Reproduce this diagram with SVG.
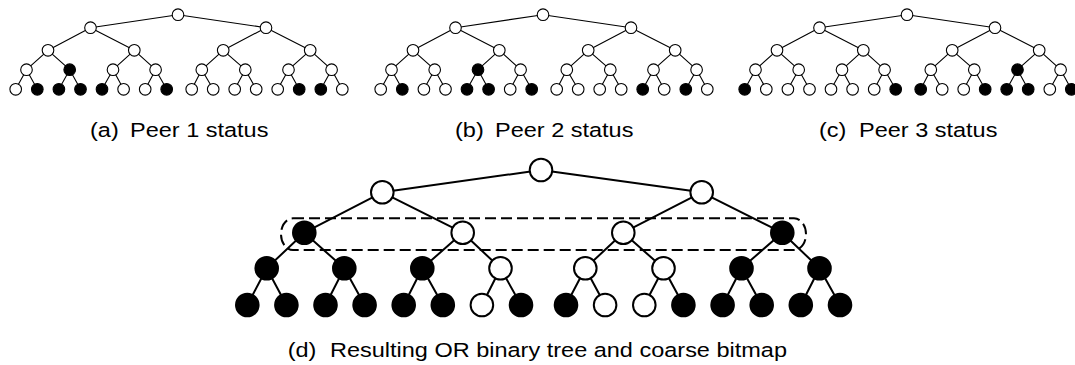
<svg xmlns="http://www.w3.org/2000/svg" xmlns:xlink="http://www.w3.org/1999/xlink" width="1075" height="365" viewBox="0 0 1075 365">
  <style>
    .sm circle { r: 5.8px; stroke: #000; stroke-width: 1.1; }
    .bg circle { r: 11.3px; stroke: #000; stroke-width: 2; }
    .w circle { fill: #fff; }
    .b circle { fill: #000; }
    .e-sm { fill: none; stroke: #000; stroke-width: 1.1; }
    .e-bg { fill: none; stroke: #000; stroke-width: 2; }
    .frame { fill: none; stroke: #000; stroke-width: 2; stroke-dasharray: 11 5; }
    text { font-family: "Liberation Sans", Arial, sans-serif; font-size: 23.5px; fill: #000; }
  </style>
  <defs>
    <!-- edges of one small 16-leaf tree, drawn at the origin of tree (a) -->
    <path id="small-edges" d="M178 14.7 L90.5 27.7 M178 14.7 L266 27.7
      M90.5 27.7 L48 50.3 M90.5 27.7 L134.3 50.3 M266 27.7 L223.2 50.3 M266 27.7 L310.2 50.3
      M48 50.3 L26.5 69.7 M48 50.3 L69.7 69.7 M134.3 50.3 L113 69.7 M134.3 50.3 L155.6 69.7
      M223.2 50.3 L201.8 69.7 M223.2 50.3 L245.3 69.7 M310.2 50.3 L288.5 69.7 M310.2 50.3 L331.6 69.7
      M26.5 69.7 L15.7 89.3 M26.5 69.7 L37.3 89.3 M69.7 69.7 L58.9 89.3 M69.7 69.7 L80.5 89.3
      M113 69.7 L102 89.3 M113 69.7 L123.6 89.3 M155.6 69.7 L145.2 89.3 M155.6 69.7 L166.7 89.3
      M201.8 69.7 L191.7 89.3 M201.8 69.7 L213.2 89.3 M245.3 69.7 L234.7 89.3 M245.3 69.7 L256.2 89.3
      M288.5 69.7 L277.7 89.3 M288.5 69.7 L299.2 89.3 M331.6 69.7 L320.8 89.3 M331.6 69.7 L342.3 89.3"/>
  </defs>

  <!-- connectors -->
  <g id="connectors">
    <use xlink:href="#small-edges" href="#small-edges" class="e-sm"/>
    <use xlink:href="#small-edges" href="#small-edges" class="e-sm" transform="translate(365,0)"/>
    <use xlink:href="#small-edges" href="#small-edges" class="e-sm" transform="translate(729,0)"/>
    <path class="e-bg" d="M541 170 L382.3 192.3 M541 170 L701.7 192.3
      M382.3 192.3 L304.3 232.7 M382.3 192.3 L462.7 232.7 M701.7 192.3 L623.3 232.7 M701.7 192.3 L782.3 232.7
      M304.3 232.7 L266.7 268.3 M304.3 232.7 L344.3 268.3 M462.7 232.7 L422.3 268.3 M462.7 232.7 L500.5 268.3
      M623.3 232.7 L585.3 268.3 M623.3 232.7 L663.5 268.3 M782.3 232.7 L741.5 268.3 M782.3 232.7 L819.5 268.3
      M266.7 268.3 L247.3 305 M266.7 268.3 L286.4 305 M344.3 268.3 L325.5 305 M344.3 268.3 L364.6 305
      M422.3 268.3 L403.7 305 M422.3 268.3 L442.8 305 M500.5 268.3 L481.9 305 M500.5 268.3 L521 305
      M585.3 268.3 L566 305 M585.3 268.3 L605.1 305 M663.5 268.3 L644.3 305 M663.5 268.3 L683.4 305
      M741.5 268.3 L722.6 305 M741.5 268.3 L761.7 305 M819.5 268.3 L800.8 305 M819.5 268.3 L840 305"/>
  </g>

  <!-- coarse bitmap level marker -->
  <rect id="coarse-level" class="frame" x="281" y="218.3" width="525" height="31.7" rx="12" ry="15.8"/>

  <!-- (a) peer 1 -->
  <g id="peer1" class="sm">
    <g id="p1-root" class="w"><circle cx="178" cy="14.7"/></g>
    <g id="p1-1-0" class="w"><circle cx="90.5" cy="27.7"/></g>
    <g id="p1-1-1" class="w"><circle cx="266" cy="27.7"/></g>
    <g id="p1-2-0" class="w"><circle cx="48" cy="50.3"/></g>
    <g id="p1-2-1" class="w"><circle cx="134.3" cy="50.3"/></g>
    <g id="p1-2-2" class="w"><circle cx="223.2" cy="50.3"/></g>
    <g id="p1-2-3" class="w"><circle cx="310.2" cy="50.3"/></g>
    <g id="p1-3-0" class="w"><circle cx="26.5" cy="69.7"/></g>
    <g id="p1-3-1" class="b"><circle cx="69.7" cy="69.7"/></g>
    <g id="p1-3-2" class="w"><circle cx="113" cy="69.7"/></g>
    <g id="p1-3-3" class="w"><circle cx="155.6" cy="69.7"/></g>
    <g id="p1-3-4" class="w"><circle cx="201.8" cy="69.7"/></g>
    <g id="p1-3-5" class="w"><circle cx="245.3" cy="69.7"/></g>
    <g id="p1-3-6" class="w"><circle cx="288.5" cy="69.7"/></g>
    <g id="p1-3-7" class="w"><circle cx="331.6" cy="69.7"/></g>
    <g id="p1-4-0" class="w"><circle cx="15.7" cy="89.3"/></g>
    <g id="p1-4-1" class="b"><circle cx="37.3" cy="89.3"/></g>
    <g id="p1-4-2" class="b"><circle cx="58.9" cy="89.3"/></g>
    <g id="p1-4-3" class="b"><circle cx="80.5" cy="89.3"/></g>
    <g id="p1-4-4" class="b"><circle cx="102" cy="89.3"/></g>
    <g id="p1-4-5" class="w"><circle cx="123.6" cy="89.3"/></g>
    <g id="p1-4-6" class="w"><circle cx="145.2" cy="89.3"/></g>
    <g id="p1-4-7" class="b"><circle cx="166.7" cy="89.3"/></g>
    <g id="p1-4-8" class="w"><circle cx="191.7" cy="89.3"/></g>
    <g id="p1-4-9" class="w"><circle cx="213.2" cy="89.3"/></g>
    <g id="p1-4-10" class="w"><circle cx="234.7" cy="89.3"/></g>
    <g id="p1-4-11" class="w"><circle cx="256.2" cy="89.3"/></g>
    <g id="p1-4-12" class="w"><circle cx="277.7" cy="89.3"/></g>
    <g id="p1-4-13" class="b"><circle cx="299.2" cy="89.3"/></g>
    <g id="p1-4-14" class="b"><circle cx="320.8" cy="89.3"/></g>
    <g id="p1-4-15" class="w"><circle cx="342.3" cy="89.3"/></g>
  </g>

  <!-- (b) peer 2 -->
  <g id="peer2" class="sm" transform="translate(365,0)">
    <g id="p2-root" class="w"><circle cx="178" cy="14.7"/></g>
    <g id="p2-1-0" class="w"><circle cx="90.5" cy="27.7"/></g>
    <g id="p2-1-1" class="w"><circle cx="266" cy="27.7"/></g>
    <g id="p2-2-0" class="w"><circle cx="48" cy="50.3"/></g>
    <g id="p2-2-1" class="w"><circle cx="134.3" cy="50.3"/></g>
    <g id="p2-2-2" class="w"><circle cx="223.2" cy="50.3"/></g>
    <g id="p2-2-3" class="w"><circle cx="310.2" cy="50.3"/></g>
    <g id="p2-3-0" class="w"><circle cx="26.5" cy="69.7"/></g>
    <g id="p2-3-1" class="w"><circle cx="69.7" cy="69.7"/></g>
    <g id="p2-3-2" class="b"><circle cx="113" cy="69.7"/></g>
    <g id="p2-3-3" class="w"><circle cx="155.6" cy="69.7"/></g>
    <g id="p2-3-4" class="w"><circle cx="201.8" cy="69.7"/></g>
    <g id="p2-3-5" class="w"><circle cx="245.3" cy="69.7"/></g>
    <g id="p2-3-6" class="w"><circle cx="288.5" cy="69.7"/></g>
    <g id="p2-3-7" class="w"><circle cx="331.6" cy="69.7"/></g>
    <g id="p2-4-0" class="w"><circle cx="15.7" cy="89.3"/></g>
    <g id="p2-4-1" class="b"><circle cx="37.3" cy="89.3"/></g>
    <g id="p2-4-2" class="w"><circle cx="58.9" cy="89.3"/></g>
    <g id="p2-4-3" class="w"><circle cx="80.5" cy="89.3"/></g>
    <g id="p2-4-4" class="b"><circle cx="102" cy="89.3"/></g>
    <g id="p2-4-5" class="b"><circle cx="123.6" cy="89.3"/></g>
    <g id="p2-4-6" class="w"><circle cx="145.2" cy="89.3"/></g>
    <g id="p2-4-7" class="b"><circle cx="166.7" cy="89.3"/></g>
    <g id="p2-4-8" class="w"><circle cx="191.7" cy="89.3"/></g>
    <g id="p2-4-9" class="w"><circle cx="213.2" cy="89.3"/></g>
    <g id="p2-4-10" class="w"><circle cx="234.7" cy="89.3"/></g>
    <g id="p2-4-11" class="w"><circle cx="256.2" cy="89.3"/></g>
    <g id="p2-4-12" class="b"><circle cx="277.7" cy="89.3"/></g>
    <g id="p2-4-13" class="w"><circle cx="299.2" cy="89.3"/></g>
    <g id="p2-4-14" class="b"><circle cx="320.8" cy="89.3"/></g>
    <g id="p2-4-15" class="w"><circle cx="342.3" cy="89.3"/></g>
  </g>

  <!-- (c) peer 3 -->
  <g id="peer3" class="sm" transform="translate(729,0)">
    <g id="p3-root" class="w"><circle cx="178" cy="14.7"/></g>
    <g id="p3-1-0" class="w"><circle cx="90.5" cy="27.7"/></g>
    <g id="p3-1-1" class="w"><circle cx="266" cy="27.7"/></g>
    <g id="p3-2-0" class="w"><circle cx="48" cy="50.3"/></g>
    <g id="p3-2-1" class="w"><circle cx="134.3" cy="50.3"/></g>
    <g id="p3-2-2" class="w"><circle cx="223.2" cy="50.3"/></g>
    <g id="p3-2-3" class="w"><circle cx="310.2" cy="50.3"/></g>
    <g id="p3-3-0" class="w"><circle cx="26.5" cy="69.7"/></g>
    <g id="p3-3-1" class="w"><circle cx="69.7" cy="69.7"/></g>
    <g id="p3-3-2" class="w"><circle cx="113" cy="69.7"/></g>
    <g id="p3-3-3" class="w"><circle cx="155.6" cy="69.7"/></g>
    <g id="p3-3-4" class="w"><circle cx="201.8" cy="69.7"/></g>
    <g id="p3-3-5" class="w"><circle cx="245.3" cy="69.7"/></g>
    <g id="p3-3-6" class="b"><circle cx="288.5" cy="69.7"/></g>
    <g id="p3-3-7" class="w"><circle cx="331.6" cy="69.7"/></g>
    <g id="p3-4-0" class="b"><circle cx="15.7" cy="89.3"/></g>
    <g id="p3-4-1" class="w"><circle cx="37.3" cy="89.3"/></g>
    <g id="p3-4-2" class="w"><circle cx="58.9" cy="89.3"/></g>
    <g id="p3-4-3" class="w"><circle cx="80.5" cy="89.3"/></g>
    <g id="p3-4-4" class="w"><circle cx="102" cy="89.3"/></g>
    <g id="p3-4-5" class="w"><circle cx="123.6" cy="89.3"/></g>
    <g id="p3-4-6" class="w"><circle cx="145.2" cy="89.3"/></g>
    <g id="p3-4-7" class="b"><circle cx="166.7" cy="89.3"/></g>
    <g id="p3-4-8" class="b"><circle cx="191.7" cy="89.3"/></g>
    <g id="p3-4-9" class="w"><circle cx="213.2" cy="89.3"/></g>
    <g id="p3-4-10" class="w"><circle cx="234.7" cy="89.3"/></g>
    <g id="p3-4-11" class="b"><circle cx="256.2" cy="89.3"/></g>
    <g id="p3-4-12" class="b"><circle cx="277.7" cy="89.3"/></g>
    <g id="p3-4-13" class="b"><circle cx="299.2" cy="89.3"/></g>
    <g id="p3-4-14" class="w"><circle cx="320.8" cy="89.3"/></g>
    <g id="p3-4-15" class="b"><circle cx="342.3" cy="89.3"/></g>
  </g>

  <!-- (d) OR of the three trees -->
  <g id="result" class="bg">
    <g id="or-root" class="w"><circle cx="541" cy="170"/></g>
    <g id="or-1-0" class="w"><circle cx="382.3" cy="192.3"/></g>
    <g id="or-1-1" class="w"><circle cx="701.7" cy="192.3"/></g>
    <g id="or-2-0" class="b"><circle cx="304.3" cy="232.7"/></g>
    <g id="or-2-1" class="w"><circle cx="462.7" cy="232.7"/></g>
    <g id="or-2-2" class="w"><circle cx="623.3" cy="232.7"/></g>
    <g id="or-2-3" class="b"><circle cx="782.3" cy="232.7"/></g>
    <g id="or-3-0" class="b"><circle cx="266.7" cy="268.3"/></g>
    <g id="or-3-1" class="b"><circle cx="344.3" cy="268.3"/></g>
    <g id="or-3-2" class="b"><circle cx="422.3" cy="268.3"/></g>
    <g id="or-3-3" class="w"><circle cx="500.5" cy="268.3"/></g>
    <g id="or-3-4" class="w"><circle cx="585.3" cy="268.3"/></g>
    <g id="or-3-5" class="w"><circle cx="663.5" cy="268.3"/></g>
    <g id="or-3-6" class="b"><circle cx="741.5" cy="268.3"/></g>
    <g id="or-3-7" class="b"><circle cx="819.5" cy="268.3"/></g>
    <g id="or-4-0" class="b"><circle cx="247.3" cy="305"/></g>
    <g id="or-4-1" class="b"><circle cx="286.4" cy="305"/></g>
    <g id="or-4-2" class="b"><circle cx="325.5" cy="305"/></g>
    <g id="or-4-3" class="b"><circle cx="364.6" cy="305"/></g>
    <g id="or-4-4" class="b"><circle cx="403.7" cy="305"/></g>
    <g id="or-4-5" class="b"><circle cx="442.8" cy="305"/></g>
    <g id="or-4-6" class="w"><circle cx="481.9" cy="305"/></g>
    <g id="or-4-7" class="b"><circle cx="521" cy="305"/></g>
    <g id="or-4-8" class="b"><circle cx="566" cy="305"/></g>
    <g id="or-4-9" class="w"><circle cx="605.1" cy="305"/></g>
    <g id="or-4-10" class="w"><circle cx="644.3" cy="305"/></g>
    <g id="or-4-11" class="b"><circle cx="683.4" cy="305"/></g>
    <g id="or-4-12" class="b"><circle cx="722.6" cy="305"/></g>
    <g id="or-4-13" class="b"><circle cx="761.7" cy="305"/></g>
    <g id="or-4-14" class="b"><circle cx="800.8" cy="305"/></g>
    <g id="or-4-15" class="b"><circle cx="840" cy="305"/></g>
  </g>

  <!-- captions: glyphs are slightly condensed vertically -->
  <g id="captions">
    <text transform="translate(90,137) scale(1,0.87)">(a)</text>
    <text transform="translate(130,137) scale(1,0.87)">Peer 1 status</text>
    <text transform="translate(455,137) scale(1,0.87)">(b)</text>
    <text transform="translate(495,137) scale(1,0.87)">Peer 2 status</text>
    <text transform="translate(819,137) scale(1,0.87)">(c)</text>
    <text transform="translate(859,137) scale(1,0.87)">Peer 3 status</text>
    <text transform="translate(287.7,357) scale(1,0.87)">(d)</text>
    <text transform="translate(330,357) scale(1,0.87)">Resulting OR binary tree and coarse bitmap</text>
  </g>
</svg>
